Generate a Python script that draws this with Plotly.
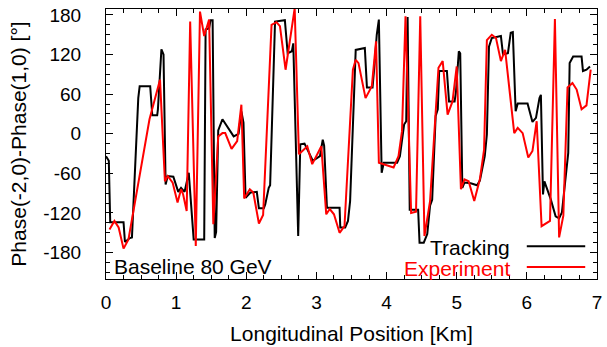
import plotly.graph_objects as go

# Tracking (black)
track_x = [0.00, 0.04, 0.06, 0.25, 0.27, 0.34, 0.37, 0.46, 0.48, 0.63, 0.66, 0.73, 0.74, 0.79, 0.82,
           0.85, 0.88, 0.96, 1.03, 1.07, 1.12, 1.18, 1.25, 1.40, 1.42, 1.47, 1.49, 1.52, 1.55, 1.57,
           1.60, 1.66, 1.82, 1.89, 1.93, 1.96, 1.99, 2.06, 2.15, 2.18, 2.25, 2.27, 2.32, 2.34, 2.41,
           2.55, 2.59, 2.65, 2.67, 2.74, 2.77, 2.83, 2.95, 3.05, 3.09, 3.11, 3.15, 3.33, 3.34, 3.41,
           3.45, 3.48, 3.56, 3.69, 3.72, 3.80, 3.83, 3.86, 3.89, 3.93, 3.96, 4.15, 4.19, 4.25, 4.28,
           4.30, 4.33, 4.45, 4.47, 4.53, 4.58, 4.62, 4.65, 4.70, 4.73, 4.75, 4.86, 4.89, 4.97, 4.99,
           5.03, 5.05, 5.08, 5.11, 5.20, 5.29, 5.33, 5.40, 5.43, 5.46, 5.50, 5.63, 5.66, 5.73, 5.77,
           5.80, 5.84, 5.87, 6.01, 6.05, 6.08, 6.13, 6.18, 6.20, 6.23, 6.25, 6.34, 6.41, 6.46, 6.50,
           6.58, 6.59, 6.61, 6.66, 6.78, 6.80, 6.85, 6.90]
track_y = [-34, -41, -134, -134, -164, -158, -157, 54, 72, 72, 28, 28, 37, 128, 120,
           -77, -64, -65, -88, -82, -88, -59, -160, -160, 158, 160, 172, 172, -158, -149,
           5, 22, -4, 0, 34, 17, -97, -89, -88, -113, -113, -107, -82, -78, 170,
           172, 122, 125, 137, -155, -16, -15, -41, -34, -9, -18, -112, -112, -142, -142,
           -132, -102, 127, 130, 70, 70, 107, 150, 173, -59, -44, -44, -34, 14, 19,
           177, -115, -115, -165, -165, -152, -109, -100, 27, 37, 95, 95, 49, 49, 64,
           125, 122, -82, -74, -75, -78, -71, -34, -1, 132, 145, 148, 120, 122, 153,
           154, 34, 46, 46, 29, 18, 24, 54, 59, -92, -72, -99, -125, -128, -119,
           -30, -29, 107, 117, 117, 95, 97, 102]

# Experiment (red)
exp_x = [0.05, 0.12, 0.18, 0.25, 0.32, 0.39, 0.62, 0.77, 0.84, 0.88, 0.95, 1.02, 1.07, 1.10, 1.15,
         1.20, 1.28, 1.34, 1.40, 1.47, 1.53, 1.60, 1.66, 1.70, 1.79, 1.87, 1.93, 1.97, 2.05, 2.10,
         2.18, 2.24, 2.36, 2.43, 2.48, 2.56, 2.62, 2.69, 2.75, 2.87, 2.94, 3.07, 3.14, 3.19, 3.25,
         3.33, 3.40, 3.52, 3.56, 3.60, 3.70, 3.79, 3.85, 3.89, 4.10, 4.17, 4.22, 4.27, 4.35, 4.42,
         4.48, 4.54, 4.62, 4.74, 4.80, 4.87, 4.94, 5.00, 5.06, 5.11, 5.17, 5.25, 5.33, 5.39, 5.43,
         5.50, 5.56, 5.63, 5.69, 5.82, 5.87, 5.94, 6.02, 6.08, 6.14, 6.21, 6.33, 6.40, 6.46, 6.52,
         6.58, 6.65, 6.71, 6.78, 6.85, 6.91]
exp_y = [-145, -132, -142, -174, -160, -117, 22, 82, -72, -64, -74, -104, -84, -92, -117,
         170, -170, 185, 148, 173, -137, -4, 1, 1, -23, -11, 44, -98, -84, -89,
         -136, -123, 165, 169, 163, 97, 140, 190, -31, -19, -46, -19, -122, -114, -122,
         -150, -140, 97, 112, 107, 54, 72, 140, -44, -51, -34, 4, 178, -120, -118,
         178, -155, -102, 100, 110, 29, 49, 102, -84, -69, -72, -102, -69, -24, 142,
         150, 145, 110, 127, 1, 9, 1, -36, -26, 19, -140, -132, 174, -157, -124,
         70, 77, 67, 37, 43, 97]

x_range = [0, 7]
x_ticks = [0, 1, 2, 3, 4, 5, 6, 7]
y_range = [-220, 189]
y_ticks = [-180, -120, -60, 0, 60, 120, 180]
y_ticktext = ["-180", "-120", "-60", "0", "60", "120", "180"]

FONT = "Liberation Sans, Arial, Helvetica, sans-serif"

fig = go.Figure()
fig.add_trace(go.Scatter(x=track_x, y=track_y, mode="lines", name="Tracking",
                         line=dict(color="#000000", width=2)))
fig.add_trace(go.Scatter(x=exp_x, y=exp_y, mode="lines", name="Experiment",
                         line=dict(color="#ff0000", width=2)))

axis_common = dict(showline=True, linecolor="black", linewidth=1, mirror="allticks",
                   ticks="inside", ticklen=7, tickcolor="black", tickwidth=1,
                   showgrid=False, zeroline=False, ticklabeloverflow="allow",
                   tickfont=dict(family=FONT, size=19, color="black"))

fig.update_xaxes(range=x_range, tickvals=x_ticks, ticktext=[str(v) for v in x_ticks],
                 minor=dict(ticks="inside", ticklen=4, dtick=0.25, tick0=0, tickcolor="black", showgrid=False),
                 title=dict(text="Longitudinal Position [Km]", font=dict(family=FONT, size=21, color="black"), standoff=14),
                 ticklabelstandoff=6,
                 **axis_common)
fig.update_yaxes(range=y_range, tickvals=y_ticks, ticktext=y_ticktext,
                 minor=dict(ticks="inside", ticklen=4, dtick=15, tick0=0, tickcolor="black", showgrid=False),
                 title=dict(text="Phase(-2,0)-Phase(1,0) [°]", font=dict(family=FONT, size=21, color="black"), standoff=10),
                 ticklabelstandoff=20,
                 **axis_common)

# legend drawn gnuplot-style (text left, sample line right)
fig.add_annotation(xref="paper", yref="paper", x=0.827, y=0.116, text="Tracking",
                   showarrow=False, xanchor="right", yanchor="middle",
                   font=dict(family=FONT, size=21, color="black"))
fig.add_annotation(xref="paper", yref="paper", x=0.827, y=0.040, text="Experiment",
                   showarrow=False, xanchor="right", yanchor="middle",
                   font=dict(family=FONT, size=21, color="#ff0000"))
fig.add_shape(type="line", xref="paper", yref="paper", x0=0.857, x1=0.976, y0=0.121, y1=0.121,
              line=dict(color="black", width=2))
fig.add_shape(type="line", xref="paper", yref="paper", x0=0.857, x1=0.976, y0=0.044, y1=0.044,
              line=dict(color="#ff0000", width=2))
fig.add_annotation(xref="paper", yref="paper", x=0.013, y=0.047, text="Baseline 80 GeV",
                   showarrow=False, xanchor="left", yanchor="middle",
                   font=dict(family=FONT, size=21, color="black"))

fig.update_layout(width=607, height=347, margin=dict(l=106, r=5, t=9, b=68),
                  showlegend=False, plot_bgcolor="white", paper_bgcolor="white",
                  font=dict(family=FONT, color="black"))

fig.write_html("out.html")
